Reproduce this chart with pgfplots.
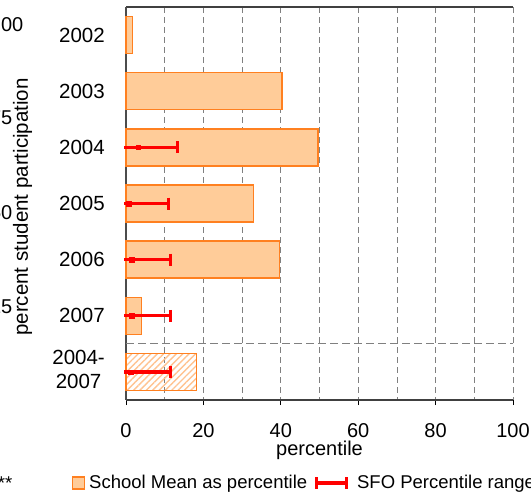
\documentclass[border=0pt]{standalone}
\usepackage{pgfplots}
\pgfplotsset{compat=1.18}
\usepackage{fontspec}
\setmainfont{Liberation Sans}
\usetikzlibrary{patterns.meta}
\definecolor{peach}{RGB}{255,204,153}
\definecolor{orline}{RGB}{255,128,32}
\definecolor{hatchc}{RGB}{255,195,145}
\definecolor{gridgray}{RGB}{128,128,128}
\definecolor{errred}{RGB}{255,0,0}
\begin{document}
\begin{tikzpicture}[x=1pt,y=1pt]
\begin{axis}[
  at={(126pt,92pt)}, anchor=south west,
  scale only axis, width=387pt, height=393pt,
  xmin=0, xmax=100, ymin=-0.5, ymax=6.5, y dir=reverse,
  clip=false,
  axis x line=box, axis y line=left,
  axis line style={-},
  x axis line style={draw=black!75, line width=1.1pt},
  y axis line style={draw=black!70, line width=1.3pt},
  xtick={0,20,...,100}, minor xtick={10,30,...,90},
  xtick pos=left,
  tick align=outside, major tick length=5pt, minor tick length=0pt,
  xtick style={draw=black, line width=0.8pt},
  ytick={0,...,6},
  yticklabels={2002,2003,2004,2005,2006,2007,{\renewcommand{\arraystretch}{0.96}\begin{tabular}{@{}c@{}}2004-\\2007\end{tabular}}},
  ytick style={draw=none},
  yticklabel style={anchor=east, inner sep=0pt, xshift=-16pt, font=\fontsize{20.5}{24.5}\selectfont},
  /pgf/number format/assume math mode=true,
  xticklabel style={anchor=base, inner sep=0pt, yshift=-32pt, font=\fontsize{20}{24}\selectfont},
  xmajorgrids, xminorgrids,
  major grid style={gridgray, dash pattern=on 6pt off 4pt, line width=0.8pt},
  minor grid style={gridgray, dash pattern=on 6pt off 4pt, line width=0.8pt},
  extra y ticks={5.5}, extra y tick labels={},
  extra y tick style={ymajorgrids=true, xmajorgrids=false, major tick length=0pt,
    major grid style={gridgray, dash pattern=on 8pt off 4pt, line width=0.8pt}},
  xlabel={percentile},
  xlabel style={at={(axis description cs:0.5,0)}, anchor=base, inner sep=0pt, yshift=-55pt,
    font=\fontsize{20}{24}\selectfont},
  legend columns=2,
  legend style={at={(axis description cs:-0.1395,-0.211)}, anchor=west,
    draw=none, fill=none, inner sep=0pt, outer sep=0pt,
    font=\fontsize{18.5}{22}\selectfont,
    nodes={inner sep=0pt},
    /tikz/every odd column/.append style={column sep=4pt},
    /tikz/every even column/.append style={column sep=6pt}},
]
\addplot[xbar, bar width=37pt, bar shift=0pt, fill=peach, draw=orline, line width=1.3pt,
  legend image code/.code={\draw[fill=peach, draw=orline, line width=1.2pt] (0pt,-6pt) rectangle (12pt,6pt);}]
  coordinates {(1.7,0) (40.3,1) (49.6,2) (33.0,3) (39.7,4) (4.0,5)};
\addlegendentry{School Mean as percentile}
\addlegendimage{legend image code/.code={
  \draw[errred, line width=3.4pt] (0pt,0pt) -- (33pt,0pt);
  \draw[errred, line width=3pt] (1.5pt,-6pt) -- (1.5pt,6pt);
  \draw[errred, line width=3pt] (31.5pt,-6pt) -- (31.5pt,6pt);
  \path (38pt,0pt);}}
\addlegendentry{SFO Percentile range}
\addplot[xbar, bar width=37pt, bar shift=0pt, draw=orline, line width=1.3pt,
  pattern={Lines[angle=45,distance=4.5pt,line width=1.4pt]}, pattern color=hatchc, forget plot]
  coordinates {(18.2,6)};
% error bars: upper part with cap
\addplot[draw=none, mark=none, forget plot,
  error bars/.cd, x dir=plus, x explicit,
  error bar style={errred, line width=3.2pt},
  error mark=|, error mark options={errred, line width=3pt, mark size=6pt}]
  table[x=m, y=y, x error plus=ep] {
  y m ep
  2 3.1 10.3
  3 0.7 10.2
  4 1.5 10.0
  5 1.5 9.9
  6 1.2 10.2
  };
% error bars: lower part without cap
\addplot[draw=none, mark=none, forget plot,
  error bars/.cd, x dir=minus, x explicit,
  error bar style={errred, line width=3.2pt}, error mark=none]
  table[x=m, y=y, x error minus=em] {
  y m em
  2 3.1 3.6
  3 0.7 1.2
  4 1.5 2.0
  5 1.5 2.0
  6 1.2 1.7
  };
\addplot[only marks, mark=square*, mark size=2.2pt, errred, forget plot]
  coordinates {(3.1,2) (0.7,3) (1.5,4) (1.5,5) (1.2,6)};
\end{axis}
\begin{scope}[every node/.style={inner sep=0pt, font=\fontsize{20}{24}\selectfont}]
\node[anchor=east] at (23.5,467) {100};
\node[anchor=east] at (12.5,374) {75};
\node[anchor=east] at (12.5,279) {50};
\node[anchor=east] at (12.5,185) {25};
\node[rotate=90, font=\fontsize{20.5}{24}\selectfont] at (22.5,285) {percent student participation};
\node[anchor=base east, font=\fontsize{18.5}{22}\selectfont] at (12.5,2) {***};
\end{scope}
\pgfresetboundingbox
\useasboundingbox (0,0) rectangle (531,492);
\end{tikzpicture}
\end{document}
